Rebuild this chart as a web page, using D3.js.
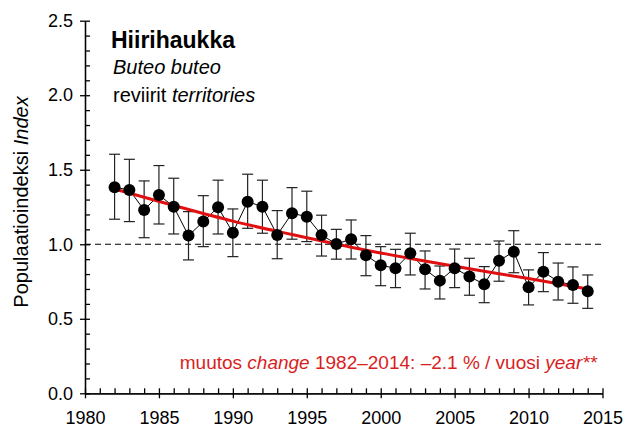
<!DOCTYPE html>
<html><head><meta charset="utf-8">
<script src="https://cdn.jsdelivr.net/npm/d3@7"></script>
<style>
html,body{margin:0;padding:0;background:#fff;}
svg{display:block;font-family:"Liberation Sans",Arial,sans-serif;}
</style></head>
<body><svg id="c" width="627" height="427"></svg>
<script>
const years = [1982,1983,1984,1985,1986,1987,1988,1989,1990,1991,1992,1993,1994,1995,1996,1997,1998,1999,2000,2001,2002,2003,2004,2005,2006,2007,2008,2009,2010,2011,2012,2013,2014];
const indexValues = [1.383,1.364,1.230,1.331,1.252,1.058,1.152,1.248,1.078,1.286,1.252,1.062,1.208,1.185,1.062,1.002,1.034,0.926,0.859,0.839,0.940,0.832,0.756,0.839,0.783,0.732,0.890,0.950,0.711,0.816,0.749,0.727,0.685];
const upperCI = [1.604,1.570,1.425,1.528,1.443,1.219,1.326,1.430,1.237,1.470,1.430,1.226,1.380,1.356,1.195,1.10,1.163,1.058,0.984,0.966,1.074,0.955,0.854,0.968,0.906,0.850,1.022,1.091,0.828,0.944,0.874,0.848,0.794];
const lowerCI = [1.168,1.152,1.044,1.136,1.069,0.895,0.984,1.069,0.917,1.107,1.074,0.903,1.034,1.018,0.921,0.90,0.901,0.789,0.722,0.709,0.794,0.700,0.633,0.709,0.658,0.608,0.752,0.809,0.593,0.682,0.626,0.604,0.570];
const trendYears = [1982,1986,1990,1994,1998,2002,2006,2010,2014];
const trendValues = [1.371,1.260,1.155,1.065,0.980,0.905,0.835,0.770,0.700];
const xMajorTicks = [1980,1985,1990,1995,2000,2005,2010,2015];
const yMajorTicks = [0.0,0.5,1.0,1.5,2.0,2.5];
const titleText = "Hiirihaukka";
const speciesText = "Buteo buteo";

const svg = d3.select("#c");
const x = d3.scaleLinear().domain([1980,2015]).range([85,602.5]);
const y = d3.scaleLinear().domain([0,2.5]).range([393.3,20.7]);

// reference dashed line at 1.0
svg.append("line").attr("x1",x(1980)).attr("x2",x(2015)).attr("y1",y(1)).attr("y2",y(1))
  .attr("stroke","#000").attr("stroke-width",1).attr("stroke-dasharray","6,4");

// axes
const minorX = d3.range(1980,2016);
const minorY = d3.range(0,26).map(d=>d/10);
const gxMinor = svg.append("g").attr("transform",`translate(0,${y(0)})`)
  .call(d3.axisBottom(x).tickValues(minorX).tickSizeInner(-5).tickSizeOuter(0).tickFormat(""));
const gxMajor = svg.append("g").attr("transform",`translate(0,${y(0)})`)
  .call(d3.axisBottom(x).tickValues(xMajorTicks).tickSizeInner(5).tickSizeOuter(0).tickFormat(d3.format("d")));
const gyMinor = svg.append("g").attr("transform",`translate(${x(1980)},0)`)
  .call(d3.axisLeft(y).tickValues(minorY).tickSizeInner(-5).tickSizeOuter(0).tickFormat(""));
const gyMajor = svg.append("g").attr("transform",`translate(${x(1980)},0)`)
  .call(d3.axisLeft(y).tickValues(yMajorTicks).tickSizeInner(5).tickSizeOuter(0).tickPadding(7).tickFormat(d3.format(".1f")));
[gxMinor,gxMajor,gyMinor,gyMajor].forEach(g=>{
  g.attr("font-size",18).attr("font-family","Liberation Sans, Arial, sans-serif");
  g.selectAll("path,line").attr("stroke","#000").attr("stroke-width",1.3);
  g.selectAll("text").attr("fill","#000").style("font-size","18px");
});
gxMajor.selectAll("text").attr("y",31).attr("dy",0);

// y label
svg.append("text").attr("transform",`translate(28,202) rotate(-90)`)
  .attr("text-anchor","middle").style("font-size","20px").attr("fill","#000")
  .html('Populaatioindeksi <tspan font-style="italic">Index</tspan>');

const data = years.map((yr,i)=>({yr, v:indexValues[i], lo:lowerCI[i], hi:upperCI[i]}));

// error bars
const eb = svg.append("g").attr("stroke","#222").attr("stroke-width",1.2);
data.forEach(d=>{
  eb.append("line").attr("x1",x(d.yr)).attr("x2",x(d.yr)).attr("y1",y(d.lo)).attr("y2",y(d.hi));
  eb.append("line").attr("x1",x(d.yr)-5.5).attr("x2",x(d.yr)+5.5).attr("y1",y(d.lo)).attr("y2",y(d.lo));
  eb.append("line").attr("x1",x(d.yr)-5.5).attr("x2",x(d.yr)+5.5).attr("y1",y(d.hi)).attr("y2",y(d.hi));
});

// connecting line
svg.append("path").datum(data).attr("fill","none").attr("stroke","#000").attr("stroke-width",1)
  .attr("d",d3.line().x(d=>x(d.yr)).y(d=>y(d.v)));

// trend
svg.append("path").datum(trendYears.map((t,i)=>({t,v:trendValues[i]})))
  .attr("fill","none").attr("stroke","#e01010").attr("stroke-width",3)
  .attr("d",d3.line().curve(d3.curveMonotoneX).x(d=>x(d.t)).y(d=>y(d.v)));

// points
svg.append("g").selectAll("circle").data(data).join("circle")
  .attr("cx",d=>x(d.yr)).attr("cy",d=>y(d.v)).attr("r",6).attr("fill","#000");

// titles
svg.append("text").attr("x",111).attr("y",48).style("font-size","23px").style("font-weight","bold").attr("fill","#000").text(titleText);
svg.append("text").attr("x",113).attr("y",74).style("font-size","20px").style("font-style","italic").attr("fill","#000").text(speciesText);
svg.append("text").attr("x",113).attr("y",101.5).style("font-size","20px").attr("fill","#000")
  .html('reviirit <tspan font-style="italic">territories</tspan>');

// change annotation
svg.append("text").attr("x",597).attr("y",369).attr("text-anchor","end").style("font-size","19px").attr("fill","#d81e1e")
  .html('muutos <tspan font-style="italic">change</tspan> 1982–2014: –2.1 % / vuosi <tspan font-style="italic">year**</tspan>');
</script>
</body></html>
